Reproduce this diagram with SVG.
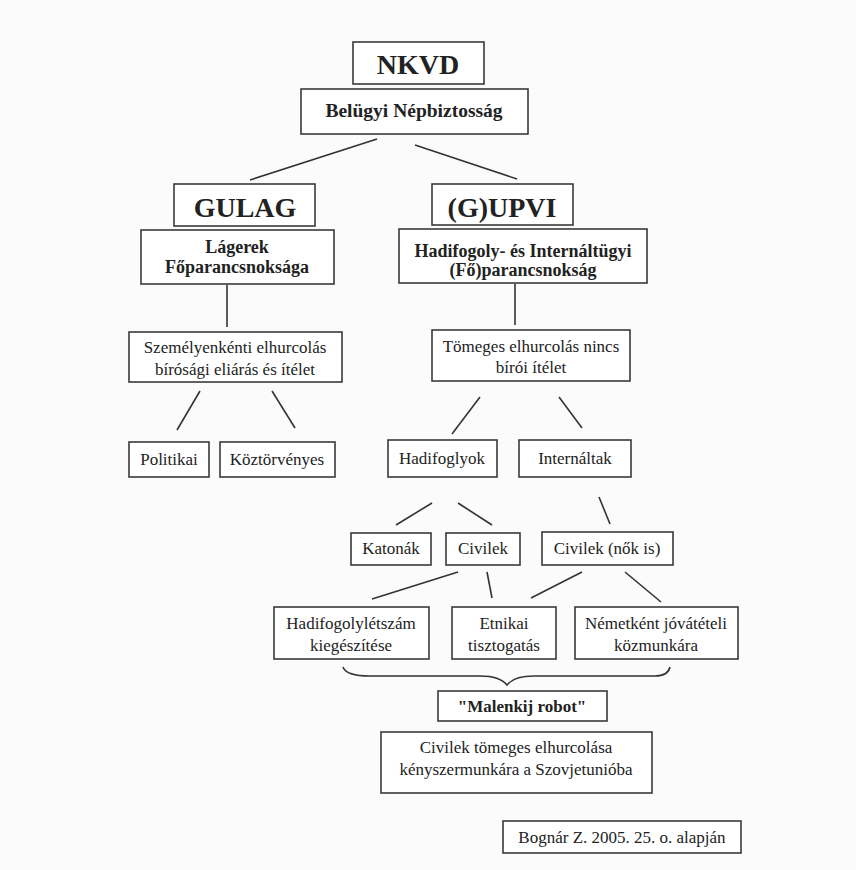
<svg xmlns="http://www.w3.org/2000/svg" width="856" height="870" viewBox="0 0 856 870">
<style>
.box{fill:#fff;stroke:#3a3a3a;stroke-width:1.6}
.t{font-family:"Liberation Serif","Times New Roman",serif;fill:#222;text-anchor:middle}
.r{font-size:17px}
.b{font-size:18px;font-weight:bold}
.big{font-size:28px;font-weight:bold}
#connectors line,#connectors path{stroke:#333;stroke-width:1.6;fill:none}
</style>
<rect width="856" height="870" fill="#fbfbfb"/>
<g id="connectors">
<line x1="377" y1="139" x2="250" y2="180"/>
<line x1="415" y1="145" x2="517" y2="179"/>
<line x1="227" y1="285" x2="227" y2="327"/>
<line x1="515" y1="284" x2="515" y2="325"/>
<line x1="200" y1="391" x2="177" y2="430"/>
<line x1="272" y1="391" x2="295" y2="428"/>
<line x1="480" y1="397" x2="452" y2="434"/>
<line x1="559" y1="397" x2="582" y2="428"/>
<line x1="432" y1="503" x2="396" y2="525"/>
<line x1="458" y1="503" x2="492" y2="525"/>
<line x1="599" y1="497" x2="610" y2="524"/>
<line x1="458" y1="572" x2="372" y2="599"/>
<line x1="487" y1="572" x2="492" y2="598"/>
<line x1="582" y1="572" x2="531" y2="598"/>
<line x1="625" y1="572" x2="661" y2="602"/>
<path d="M343 667 Q346 676 370 676 L480 676 Q500 676 507 685 Q514 676 534 676 L655 676 Q668 676 670 667"/>
</g>
<g id="nkvd"><rect class="box" x="353" y="42" width="131" height="42"/><text class="t big" x="418" y="74">NKVD</text></g>
<g id="belugyi"><rect class="box" x="301" y="89" width="227" height="45"/><text class="t b" x="414" y="117" style="font-size:19.5px">Belügyi Népbiztosság</text></g>
<g id="gulag"><rect class="box" x="174" y="184" width="141" height="42"/><text class="t big" x="245" y="217">GULAG</text></g>
<g id="lagerek"><rect class="box" x="141" y="230" width="193" height="54"/><text class="t b" x="237" y="253">Lágerek</text><text class="t b" x="237" y="273">Főparancsnoksága</text></g>
<g id="gupvi"><rect class="box" x="432" y="184" width="141" height="41"/><text class="t big" x="502" y="217">(G)UPVI</text></g>
<g id="hadifogoly-ugyi"><rect class="box" x="399" y="229" width="248" height="54"/><text class="t b" x="523" y="257">Hadifogoly- és Internáltügyi</text><text class="t b" x="523" y="276">(Fő)parancsnokság</text></g>
<g id="szemelyenkenti"><rect class="box" x="129" y="332" width="213" height="50"/><text class="t r" x="235" y="353">Személyenkénti elhurcolás</text><text class="t r" x="235" y="375">bírósági eliárás és ítélet</text></g>
<g id="tomeges"><rect class="box" x="432" y="330" width="198" height="51"/><text class="t r" x="531" y="352">Tömeges elhurcolás nincs</text><text class="t r" x="531" y="373">bírói ítélet</text></g>
<g id="politikai"><rect class="box" x="129" y="442" width="80" height="35"/><text class="t r" x="169" y="465">Politikai</text></g>
<g id="koztorvenyes"><rect class="box" x="220" y="442" width="115" height="35"/><text class="t r" x="277" y="465">Köztörvényes</text></g>
<g id="hadifoglyok"><rect class="box" x="388" y="440" width="109" height="37"/><text class="t r" x="442" y="464">Hadifoglyok</text></g>
<g id="internaltak"><rect class="box" x="519" y="440" width="112" height="37"/><text class="t r" x="575" y="464">Internáltak</text></g>
<g id="katonak"><rect class="box" x="351" y="533" width="80" height="32"/><text class="t r" x="391" y="554">Katonák</text></g>
<g id="civilek"><rect class="box" x="446" y="533" width="74" height="32"/><text class="t r" x="483" y="554">Civilek</text></g>
<g id="civilek-nok"><rect class="box" x="542" y="532" width="131" height="33"/><text class="t r" x="607" y="554">Civilek (nők is)</text></g>
<g id="hadifogolyletszam"><rect class="box" x="274" y="607" width="155" height="52"/><text class="t r" x="351" y="629">Hadifogolylétszám</text><text class="t r" x="351" y="651">kiegészítése</text></g>
<g id="etnikai"><rect class="box" x="452" y="607" width="104" height="52"/><text class="t r" x="504" y="629">Etnikai</text><text class="t r" x="504" y="651">tisztogatás</text></g>
<g id="nemetkent"><rect class="box" x="575" y="607" width="163" height="52"/><text class="t r" x="656" y="629">Németként jóvátételi</text><text class="t r" x="656" y="651">közmunkára</text></g>
<g id="malenkij"><rect class="box" x="438" y="691" width="169" height="30"/><text class="t b" x="522" y="712" style="font-size:17px">"Malenkij robot"</text></g>
<g id="civilek-tomeges"><rect class="box" x="381" y="732" width="271" height="61"/><text class="t r" x="516" y="753">Civilek tömeges elhurcolása</text><text class="t r" x="516" y="775">kényszermunkára a Szovjetunióba</text></g>
<g id="forras"><rect class="box" x="503" y="821" width="238" height="32"/><text class="t r" x="622" y="843">Bognár Z. 2005. 25. o. alapján</text></g>
</svg>
